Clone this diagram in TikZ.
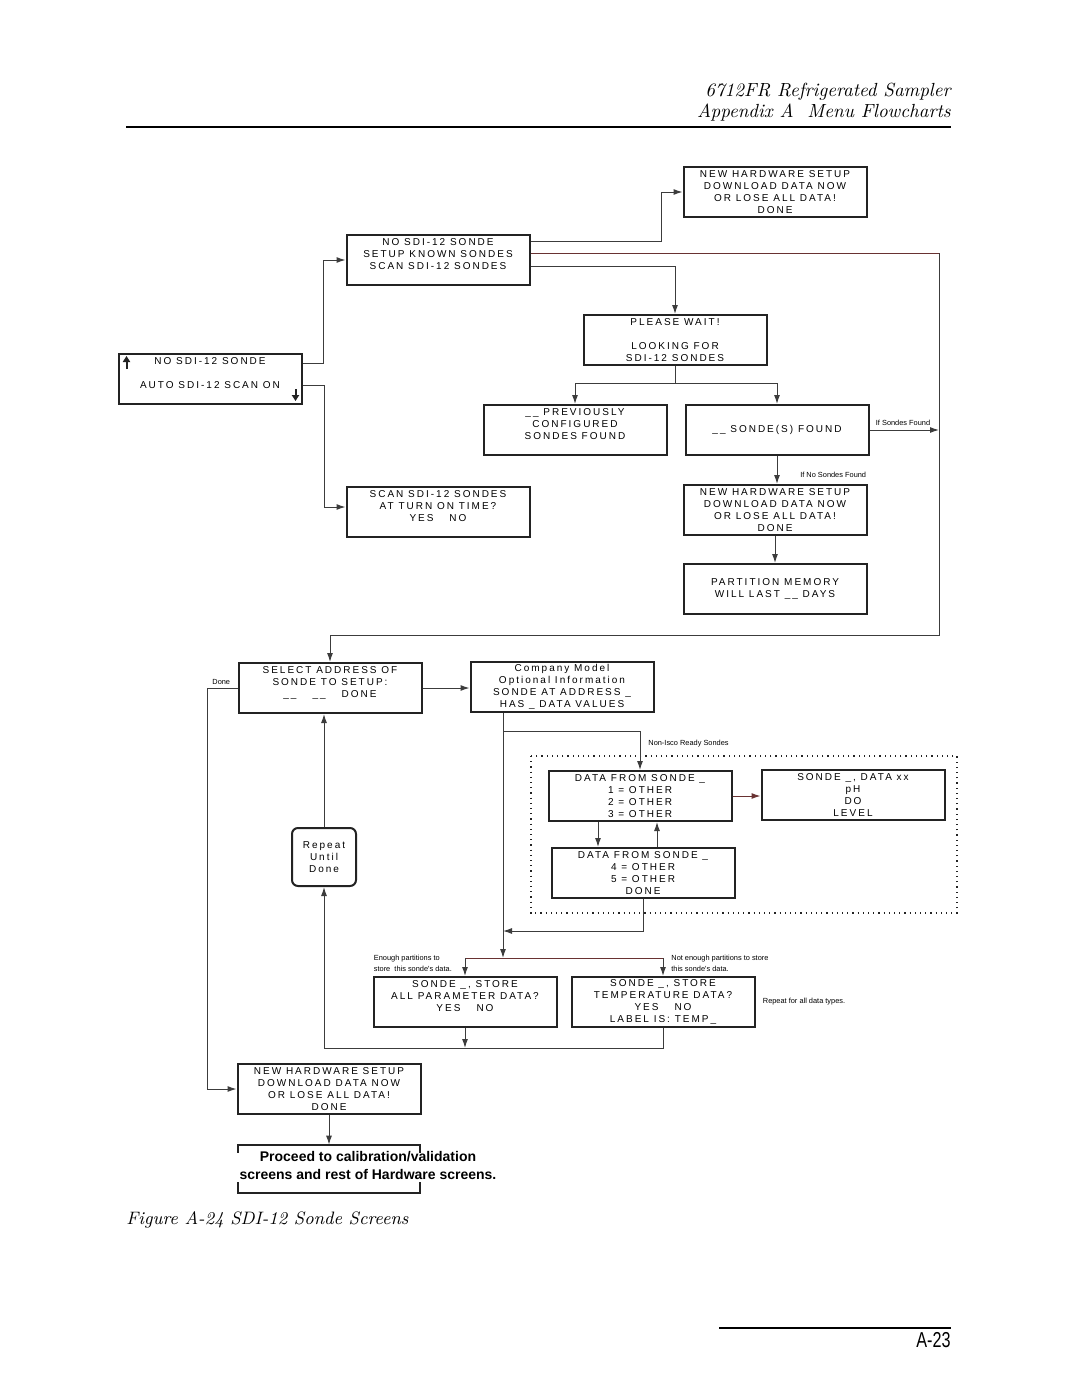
\documentclass[tikz,border=0pt]{standalone}
\usepackage{fontspec}
\usepackage{tikz}
\usetikzlibrary{positioning,calc}
\usetikzlibrary{arrows.meta}
\newfontfamily\lcdfont[LetterSpace=20]{Liberation Sans}
\newfontfamily\helv{Liberation Sans}
\definecolor{BoxInk}{RGB}{35,35,35}
\definecolor{WireGray}{RGB}{60,60,60}
\definecolor{WireRed}{RGB}{105,50,50}
\tikzset{
  scr/.style={draw=BoxInk,line width=1pt,minimum width=91.5pt,minimum height=25pt,inner sep=0pt,
    align=center,font=\lcdfont\fontsize{5}{6}\selectfont},
  flow/.style={draw=WireGray,line width=0.5pt,-{Latex[length=4.5pt,width=3pt]}},
  wire/.style={draw=WireGray,line width=0.5pt},
  note/.style={font=\helv\fontsize{3.7}{5.5}\selectfont,inner sep=0.5pt,align=left},
  grp/.style={draw=BoxInk,line width=0.6pt,dotted},
  keyarrow/.style={draw=BoxInk,line width=1pt,-{Triangle[length=3pt,width=3.6pt]}},
  bracket/.style={draw=BoxInk,line width=1pt},
}

\begin{document}
\begin{tikzpicture}[x=0.5pt,y=-0.5pt]
\path[use as bounding box] (0,0) rectangle (1080,1397);

\node[anchor=base east,inner sep=0pt,font=\itshape\fontsize{9.5}{11}\selectfont] (hdrA) at (951,96) {6712FR Refrigerated Sampler};
\node[anchor=base east,inner sep=0pt,font=\itshape\fontsize{9.5}{11}\selectfont] (hdrB) at (951,117) {Appendix A\ \ Menu Flowcharts};
\coordinate (ruleL) at (126,127);
\coordinate (ruleR) at (951,127);
\draw[line width=1.1pt] (ruleL) -- (ruleR);

\node[scr] (nhsA) at (775,192) {NEW HARDWARE SETUP\\DOWNLOAD DATA NOW\\OR LOSE ALL DATA!\\DONE};
\node[scr] (nosdi) at (438,260) {NO SDI-12 SONDE\\SETUP KNOWN SONDES\\SCAN SDI-12 SONDES\\\mbox{}};
\node[scr] (wait) at (675,340) {PLEASE WAIT!\\\mbox{}\\LOOKING FOR\\SDI-12 SONDES};
\node[scr] (auto) at (210,379) {NO SDI-12 SONDE\\\mbox{}\\AUTO SDI-12 SCAN ON\\\mbox{}};
\node[scr] (prev) at (575,430) {\_\_ PREVIOUSLY\\CONFIGURED\\SONDES FOUND\\\mbox{}};
\node[scr] (found) at (777,430) {\_\_ SONDE(S) FOUND};
\node[scr] (turnon) at (438,512) {SCAN SDI-12 SONDES\\AT TURN ON TIME?\\YES\hspace{8pt}NO\\\mbox{}};
\node[scr] (nhsB) at (775,510) {NEW HARDWARE SETUP\\DOWNLOAD DATA NOW\\OR LOSE ALL DATA!\\DONE};
\node[scr] (part) at (775,589) {PARTITION MEMORY\\WILL LAST \_\_ DAYS};
\node[scr] (select) at (330,688) {SELECT ADDRESS OF\\SONDE TO SETUP:\\\_\_\hspace{8pt}\_\_\hspace{8pt}DONE\\\mbox{}};
\node[scr] (company) at (562,687) {Company Model\\Optional Information\\SONDE AT ADDRESS \_\\HAS \_ DATA VALUES};
\node[scr] (dataA) at (640,796) {DATA FROM SONDE \_\\1 = OTHER\\2 = OTHER\\3 = OTHER};
\node[scr] (values) at (853,795) {SONDE \_, DATA xx\\pH\\DO\\LEVEL};
\node[scr] (dataB) at (643,873) {DATA FROM SONDE \_\\4 = OTHER\\5 = OTHER\\DONE};
\node[scr,rounded corners=3pt,minimum width=32pt,minimum height=29pt] (repeat) at (324,857) {Repeat\\Until\\Done};
\node[scr] (storeAll) at (465,1002) {SONDE \_, STORE\\ALL PARAMETER DATA?\\YES\hspace{8pt}NO\\\mbox{}};
\node[scr] (storeTemp) at (663,1002) {SONDE \_, STORE\\TEMPERATURE DATA?\\YES\hspace{8pt}NO\\LABEL IS: TEMP\_};
\node[scr] (nhsC) at (329,1089) {NEW HARDWARE SETUP\\DOWNLOAD DATA NOW\\OR LOSE ALL DATA!\\DONE};
\node[minimum width=91pt,minimum height=24pt,inner sep=0pt] (proceed) at (329,1169) {};
\node[font=\helv\bfseries\fontsize{7}{9}\selectfont,align=center,inner sep=0pt] (proceedTxt) at (368,1165)
  {Proceed to calibration/validation\\screens and rest of Hardware screens.};

\draw[keyarrow] ([shift={(4.5pt,-8pt)}]auto.north west) -- ++(0,-13);
\draw[keyarrow] ([shift={(-3.5pt,8pt)}]auto.south east) -- ++(0,12);

\draw[bracket] ([yshift=-4pt]proceed.north west) -- (proceed.north west) -- (proceed.north east) -- ++(0,8);
\draw[bracket] ([yshift=5.5pt]proceed.south west) -- (proceed.south west) -- (proceed.south east) -- ++(0,-11);

\coordinate (grpNW) at (531,756);
\coordinate (grpSE) at (957,913);
\draw[grp] (grpNW) rectangle (grpSE);

\coordinate (rightTop) at (939,635);
\coordinate (nosdiOut) at ([yshift=3.5pt]nosdi.east);
\coordinate (trunk) at (503,958);
\coordinate (rejoin) at (503,931);
\coordinate (loopBack) at (324,1048);
\coordinate (dnA) at ([xshift=-21pt]dataA.south);
\coordinate (upB) at ([xshift=7pt]dataB.north);

\draw[flow] ([yshift=8pt]auto.east) -- ++(21,0) |- (nosdi.west);
\draw[flow] ([yshift=-3pt]auto.east) -- ++(22,0) |- ([yshift=2.5pt]turnon.west);
\draw[flow] ([yshift=9.5pt]nosdi.east) -- ++(131,0) |- (nhsA.west);
\draw[wire,WireRed] (nosdiOut) -- (nosdiOut -| rightTop);
\draw[flow] (nosdiOut -| rightTop) -- (rightTop) -| (select.north);
\draw[flow] ([yshift=-3pt]nosdi.east) -| (wait.north);
\draw[flow] (wait.south) -- ++(0,17) -| (prev.north);
\draw[flow] (wait.south) -- ++(0,17) -| (found.north);
\draw[flow] (found.east) -- (found.east -| rightTop);
\draw[flow] (found.south) -- (found.south |- nhsB.north);
\draw[flow] (nhsB.south) -- (part.north);
\node[note,anchor=south west] (lblFound) at ([xshift=2.5pt,yshift=1.5pt]found.east) {If Sondes Found};
\node[note,anchor=south east] (lblNone) at ([yshift=2.5pt]nhsB.north east) {If No Sondes Found};

\draw[flow] (select.east) -- (select.east -| company.west);
\draw[flow] (select.west) -- ++(-30,0) |- (nhsC.west);
\node[note,anchor=south east] (lblDone) at ([xshift=-3pt,yshift=1pt]select.west) {Done};
\draw[flow] (repeat.north) -- (repeat.north |- select.south);

\draw[flow] (company.south west -| trunk) -- (trunk);
\draw[flow] (company.south west -| trunk) -- ++(0,18) -| (dataA.north);
\node[note,anchor=west] (lblIsco) at ([xshift=3.5pt,yshift=13pt]dataA.north) {Non-Isco Ready Sondes};
\draw[flow] (dnA) -- (dnA |- dataB.north);
\draw[flow] (upB) -- (upB |- dataA.south);
\draw[flow,WireRed] (dataA.east) -- (dataA.east -| values.west);
\draw[flow] (dataB.south) |- (rejoin);

\draw[wire,WireRed] (trunk -| storeAll.north) -- (trunk -| storeTemp.north);
\draw[flow] (trunk -| storeAll.north) -- (storeAll.north);
\draw[flow] (trunk -| storeTemp.north) -- (storeTemp.north);
\node[note,anchor=south west] (lblEnough) at ([yshift=1.5pt]storeAll.north west) {Enough partitions to\\store\ \ this sonde's data.};
\node[note,anchor=south west] (lblShort) at ([xshift=3.5pt,yshift=1.5pt]storeTemp.north) {Not enough partitions to store\\this sonde's data.};
\node[note,anchor=west] (lblRepeat) at ([xshift=3pt]storeTemp.east) {Repeat for all data types.};
\draw[flow] (storeAll.south) -- (storeAll.south |- loopBack);
\draw[wire] (storeTemp.south) |- (loopBack);
\draw[flow] (loopBack) -- (repeat.south);
\draw[flow] (nhsC.south) -- (nhsC.south |- proceed.north);

\node[anchor=base west,inner sep=0pt,font=\itshape\fontsize{9}{11}\selectfont] (caption) at (126,1224) {Figure A-24 SDI-12 Sonde Screens};
\coordinate (footL) at (719,1328);
\coordinate (footR) at (951,1328);
\draw[line width=1pt] (footL) -- (footR);
\node[anchor=base east,inner sep=0pt,font=\helv\fontsize{9}{11}\selectfont,yscale=1.2,xscale=0.9] (pageNo) at (951,1347) {A-23};
\end{tikzpicture}
\end{document}
